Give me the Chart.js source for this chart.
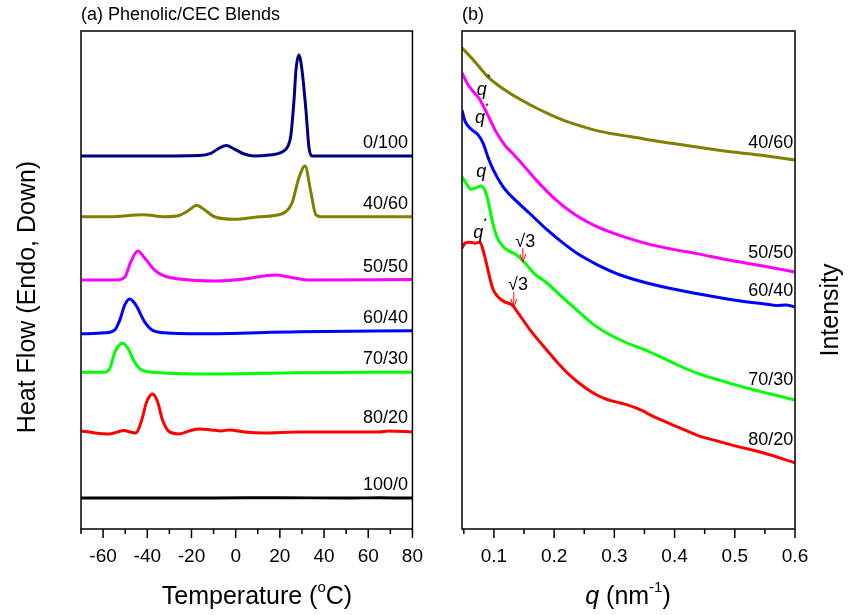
<!DOCTYPE html>
<html>
<head>
<meta charset="utf-8">
<script src="https://cdn.jsdelivr.net/npm/chart.js@4.4.0/dist/chart.umd.min.js"></script>
<style>
  body { margin: 0; background: #fff; }
  #wrap { position: relative; width: 853px; height: 615px; }
  #dsc { position: absolute; left: 0; top: 0; }
  #saxs { position: absolute; left: 430px; top: 0; }
</style>
</head>
<body>
<div id="wrap">
  <canvas id="dsc" width="430" height="615"></canvas>
  <canvas id="saxs" width="423" height="615"></canvas>
</div>
<script>
// ---- (a) DSC traces, heat flow in arbitrary units (stacked) ----
const blendsDsc = ["0/100", "40/60", "50/50", "60/40", "70/30", "80/20", "100/0"];
const colorsDsc = ["#000080", "#808000", "#ff00ff", "#0000ff", "#00ff00", "#ff0000", "#000000"];

const temp0 = [-70, -39, -16.4, -11, -7.4, -4.2, -0.6, 3.9, 8.4, 15.1, 21, 23.7, 25, 26.4, 27.3, 28.6, 30, 31.8, 33.2, 34.5, 80];
const heat0 = [74.9, 74.9, 75.0, 75.5, 76.5, 77.0, 76.3, 75.3, 74.9, 75.1, 75.7, 76.9, 79.1, 86.1, 92.2, 95.2, 92.2, 84.1, 76.5, 74.9, 74.9];

const temp1 = [-70, -57, -42, -32, -25.4, -20.9, -17.7, -14.1, -9.6, -0.6, 10.6, 21, 25.5, 28.6, 31.4, 34, 36.3, 38.6, 80];
const heat1 = [62.7, 62.7, 63.1, 62.7, 63.0, 64.1, 65.0, 64.1, 62.7, 62.2, 62.7, 63.3, 65.5, 70.5, 72.9, 67.7, 63.1, 62.7, 62.7];

const temp2 = [-70, -54.7, -50.2, -47.5, -44.3, -41.2, -36.7, -32.2, -25.4, -8.7, 3.9, 12.9, 18.3, 24.1, 33.2, 80];
const heat2 = [50.0, 50.0, 50.6, 53.6, 55.8, 54.4, 52.0, 50.8, 50.2, 49.8, 50.2, 50.8, 51.0, 50.6, 50.0, 50.1];

const temp3 = [-70, -59.2, -54.7, -52.4, -50.2, -47.9, -45.2, -41.2, -38, -32.2, -16.4, 28.6, 80];
const heat3 = [39.2, 39.4, 40.0, 42.0, 45.0, 46.2, 45.0, 41.6, 40.0, 39.4, 39.2, 39.6, 39.8];

const temp4 = [-70, -59.2, -56.9, -54.7, -52.4, -51.1, -48.8, -45.7, -42.5, -34.4, -11.9, 28.6, 80];
const heat4 = [31.5, 31.5, 32.3, 35.5, 37.1, 37.3, 36.3, 33.5, 31.9, 31.4, 31.1, 31.4, 31.5];

const temp5 = [-70, -63.7, -56.9, -53.3, -50.6, -47.9, -45.2, -42.5, -40.3, -37.6, -35.3, -33.1, -29.9, -25.4, -20.9, -16.4, -11, -6.5, -2.9, 3.9, 12.9, 28.6, 64.7, 69.2, 80];
const heat5 = [19.7, 19.3, 19.1, 19.5, 19.8, 19.5, 19.3, 21.9, 25.5, 27.1, 25.5, 21.9, 19.5, 19.1, 19.7, 20.1, 19.9, 19.7, 19.9, 19.5, 19.3, 19.5, 19.5, 19.7, 19.5];

const temp6 = [-70, -40, -10, 20, 50, 65, 80];
const heat6 = [6.2, 6.2, 6.2, 6.3, 6.2, 6.3, 6.2];

const tempMajor = [-60, -40, -20, 0, 20, 40, 60, 80];
const tempMinor = [-70, -50, -30, -10, 10, 30, 50, 70];

// ---- (b) SAXS profiles, intensity in arbitrary units (stacked) ----
const blendsSaxs = ["40/60", "50/50", "60/40", "70/30", "80/20"];
const colorsSaxs = ["#808000", "#ff00ff", "#0000ff", "#00ff00", "#ff0000"];

const qOlive = [0.047, 0.068, 0.09, 0.12, 0.16, 0.19, 0.215, 0.245, 0.271, 0.30, 0.326, 0.38, 0.437, 0.49, 0.547, 0.6];
const iOlive = [96.6, 93.9, 90.8, 88.0, 85.2, 83.4, 82.1, 80.9, 80.0, 79.3, 78.8, 77.7, 76.7, 75.8, 75.0, 74.1];

const qPink = [0.047, 0.057, 0.066, 0.074, 0.080, 0.090, 0.102, 0.118, 0.132, 0.147, 0.160, 0.173, 0.201, 0.235, 0.271, 0.31, 0.354, 0.40, 0.437, 0.49, 0.547, 0.6];
const iPink = [91.6, 89.2, 87.8, 86.7, 85.5, 83.1, 80.1, 77.1, 75.3, 73.3, 71.5, 69.7, 66.3, 63.1, 60.7, 58.9, 57.3, 56.1, 55.3, 54.0, 52.8, 51.6];

const qBlue = [0.047, 0.052, 0.058, 0.064, 0.074, 0.082, 0.090, 0.099, 0.113, 0.124, 0.135, 0.160, 0.19, 0.215, 0.24, 0.271, 0.31, 0.354, 0.41, 0.464, 0.51, 0.55, 0.57, 0.585, 0.6];
const iBlue = [84.1, 81.9, 80.8, 80.1, 79.1, 77.5, 74.7, 72.1, 69.1, 67.4, 66.1, 63.3, 59.9, 57.4, 55.2, 53.1, 51.0, 49.4, 47.9, 46.7, 45.8, 45.2, 44.9, 45.0, 44.6];

const qGreen = [0.047, 0.054, 0.062, 0.070, 0.079, 0.085, 0.090, 0.097, 0.105, 0.118, 0.138, 0.150, 0.168, 0.188, 0.215, 0.243, 0.265, 0.288, 0.32, 0.354, 0.395, 0.437, 0.48, 0.520, 0.56, 0.6];
const iGreen = [70.7, 69.4, 68.2, 68.5, 68.9, 68.0, 66.1, 62.0, 58.6, 56.4, 55.0, 53.6, 51.2, 49.4, 46.4, 43.4, 41.1, 39.3, 37.4, 35.8, 33.5, 31.3, 29.7, 28.3, 27.1, 25.9];

const qRed = [0.047, 0.052, 0.060, 0.069, 0.077, 0.082, 0.089, 0.094, 0.099, 0.107, 0.118, 0.130, 0.140, 0.160, 0.188, 0.205, 0.226, 0.25, 0.271, 0.288, 0.31, 0.338, 0.37, 0.409, 0.44, 0.464, 0.50, 0.547, 0.6];
const iRed = [56.4, 57.4, 57.6, 57.4, 57.6, 56.0, 52.6, 50.0, 48.0, 46.6, 45.6, 45.0, 43.4, 40.0, 35.9, 33.5, 30.9, 28.5, 26.9, 26.0, 25.3, 24.2, 22.3, 20.3, 18.7, 17.9, 16.7, 15.3, 13.3];

const qMajor = [0.1, 0.2, 0.3, 0.4, 0.5, 0.6];
const qMinor = [0.05, 0.15, 0.25, 0.35, 0.45, 0.55];

// q* peak marks and sqrt(3) arrows: [q, intensity] of text centre, arrow at q from..to
const qStarMarks = [[0.080, 88.2], [0.077, 82.5], [0.079, 71.7], [0.074, 59.4]];
const rootMarks = [[0.152, 57.6, 0.148, 56.4, 53.6], [0.140, 49.0, 0.133, 47.6, 44.6]];

const FONT = '"Liberation Sans", Arial, sans-serif';

function pairs(xs, ys) {
  return xs.map((v, i) => ({ x: v, y: ys[i] }));
}

function lineSet(label, color, xs, ys) {
  return {
    label: label,
    data: pairs(xs, ys),
    borderColor: color,
    borderWidth: 3,
    pointRadius: 0,
    fill: false,
    tension: 0.4,
    cubicInterpolationMode: "monotone",
  };
}

// value of a dataset at x, for placing the curve labels
function valueAt(data, x) {
  for (let i = 1; i < data.length; i++) {
    if (data[i].x >= x) {
      const a = data[i - 1], b = data[i];
      return a.y + (b.y - a.y) * (x - a.x) / (b.x - a.x);
    }
  }
  return data[data.length - 1].y;
}

// draws runs of text with different fonts / vertical shifts, centred on cx
function drawRuns(ctx, runs, cx, cy) {
  let w = 0;
  runs.forEach(r => { ctx.font = r.font; w += ctx.measureText(r.text).width; });
  let x = cx - w / 2;
  ctx.textAlign = "left";
  ctx.textBaseline = "middle";
  runs.forEach(r => {
    ctx.font = r.font;
    ctx.fillText(r.text, x, cy + (r.dy || 0));
    x += ctx.measureText(r.text).width;
  });
}

const panelPlugin = {
  id: "panel",
  afterDatasetsDraw(chart, args, opts) {
    const { ctx, chartArea: a, scales } = chart;
    const x = scales.x, y = scales.y;
    ctx.save();
    ctx.strokeStyle = "#000";
    ctx.fillStyle = "#000";
    ctx.lineWidth = 1.5;
    ctx.strokeRect(a.left, a.top, a.right - a.left, a.bottom - a.top);

    ctx.beginPath();
    opts.major.forEach(v => {
      const px = x.getPixelForValue(v);
      ctx.moveTo(px, a.bottom); ctx.lineTo(px, a.bottom + 9);
    });
    opts.minor.forEach(v => {
      const px = x.getPixelForValue(v);
      ctx.moveTo(px, a.bottom); ctx.lineTo(px, a.bottom + 5);
    });
    ctx.stroke();

    // curve labels
    ctx.font = "18px " + FONT;
    ctx.textAlign = "right";
    ctx.textBaseline = "middle";
    chart.data.datasets.forEach(ds => {
      const v = valueAt(ds.data, opts.labelProbe);
      ctx.fillText(ds.label, x.getPixelForValue(opts.labelX), y.getPixelForValue(v) - 13);
    });

    // panel caption
    ctx.font = "18px " + FONT;
    ctx.textAlign = "left";
    ctx.fillText(opts.caption, a.left, 15);

    // x title
    drawRuns(ctx, opts.xTitle, opts.xTitlePos[0], opts.xTitlePos[1]);

    // y title
    ctx.save();
    ctx.translate(opts.yTitlePos[0], opts.yTitlePos[1]);
    ctx.rotate(-Math.PI / 2);
    ctx.font = "25px " + FONT;
    ctx.textAlign = "center";
    ctx.textBaseline = "middle";
    ctx.fillText(opts.yTitle, 0, 0);
    ctx.restore();

    if (opts.marks) opts.marks(ctx, x, y);
    ctx.restore();
  }
};

function axisX(min, max, major, fmt) {
  return {
    type: "linear",
    min: min,
    max: max,
    afterBuildTicks: s => { s.ticks = major.map(v => ({ value: v })); },
    afterFit: s => { s.height = 86; },
    grid: { display: true, drawOnChartArea: false, color: "rgba(0,0,0,0)", tickLength: 9 },
    border: { display: false },
    ticks: {
      color: "#000",
      padding: 7,
      maxRotation: 0,
      autoSkip: false,
      font: { family: FONT, size: 19 },
      callback: fmt,
    },
  };
}

const hiddenY = { type: "linear", min: 0, max: 100, display: false };

new Chart(document.getElementById("dsc"), {
  type: "line",
  data: {
    datasets: [
      lineSet(blendsDsc[0], colorsDsc[0], temp0, heat0),
      lineSet(blendsDsc[1], colorsDsc[1], temp1, heat1),
      lineSet(blendsDsc[2], colorsDsc[2], temp2, heat2),
      lineSet(blendsDsc[3], colorsDsc[3], temp3, heat3),
      lineSet(blendsDsc[4], colorsDsc[4], temp4, heat4),
      lineSet(blendsDsc[5], colorsDsc[5], temp5, heat5),
      lineSet(blendsDsc[6], colorsDsc[6], temp6, heat6),
    ],
  },
  options: {
    responsive: false,
    animation: false,
    events: [],
    layout: { padding: { left: 81, right: 16, top: 31, bottom: 0 } },
    scales: {
      x: axisX(-70, 80, tempMajor, v => String(v)),
      y: hiddenY,
    },
    plugins: {
      legend: { display: false },
      tooltip: { enabled: false },
      panel: {
        major: tempMajor,
        minor: tempMinor,
        labelX: 78,
        labelProbe: 72,
        caption: "(a) Phenolic/CEC Blends",
        xTitle: [
          { text: "Temperature (", font: "25px " + FONT },
          { text: "o", font: "15px " + FONT, dy: -9 },
          { text: "C)", font: "25px " + FONT },
        ],
        xTitlePos: [257, 597],
        yTitle: "Heat Flow (Endo, Down)",
        yTitlePos: [28, 297],
      },
    },
  },
  plugins: [panelPlugin],
});

new Chart(document.getElementById("saxs"), {
  type: "line",
  data: {
    datasets: [
      lineSet(blendsSaxs[0], colorsSaxs[0], qOlive, iOlive),
      lineSet(blendsSaxs[1], colorsSaxs[1], qPink, iPink),
      lineSet(blendsSaxs[2], colorsSaxs[2], qBlue, iBlue),
      lineSet(blendsSaxs[3], colorsSaxs[3], qGreen, iGreen),
      lineSet(blendsSaxs[4], colorsSaxs[4], qRed, iRed),
    ],
  },
  options: {
    responsive: false,
    animation: false,
    events: [],
    layout: { padding: { left: 32, right: 58, top: 31, bottom: 0 } },
    scales: {
      x: axisX(0.047, 0.6, qMajor, v => v.toFixed(1)),
      y: hiddenY,
    },
    plugins: {
      legend: { display: false },
      tooltip: { enabled: false },
      panel: {
        major: qMajor,
        minor: qMinor,
        labelX: 0.597,
        labelProbe: 0.55,
        caption: "(b)",
        xTitle: [
          { text: "q", font: "italic 25px " + FONT },
          { text: " (nm", font: "25px " + FONT },
          { text: "-1", font: "15px " + FONT, dy: -9 },
          { text: ")", font: "25px " + FONT },
        ],
        xTitlePos: [198, 597],
        yTitle: "Intensity",
        yTitlePos: [401, 310],
        marks: (ctx, x, y) => {
          ctx.textAlign = "center";
          ctx.textBaseline = "middle";
          qStarMarks.forEach(m => {
            const px = x.getPixelForValue(m[0]), py = y.getPixelForValue(m[1]);
            ctx.font = "italic 18px " + FONT;
            ctx.fillText("q", px, py);
            ctx.font = "9px " + FONT;
            ctx.fillText("*", px + 7, py - 12);
          });
          rootMarks.forEach(m => {
            const px = x.getPixelForValue(m[0]), py = y.getPixelForValue(m[1]);
            ctx.fillStyle = "#000";
            ctx.font = "18px " + FONT;
            ctx.fillText("\u221a3", px, py);
            const ax = x.getPixelForValue(m[2]);
            const y0 = y.getPixelForValue(m[3]), y1 = y.getPixelForValue(m[4]);
            ctx.strokeStyle = "#ff0000";
            ctx.lineWidth = 1;
            ctx.beginPath();
            ctx.moveTo(ax, y0); ctx.lineTo(ax, y1);
            ctx.moveTo(ax - 3, y1 - 8); ctx.lineTo(ax, y1); ctx.lineTo(ax + 3, y1 - 8);
            ctx.stroke();
          });
        },
      },
    },
  },
  plugins: [panelPlugin],
});
</script>
</body>
</html>
